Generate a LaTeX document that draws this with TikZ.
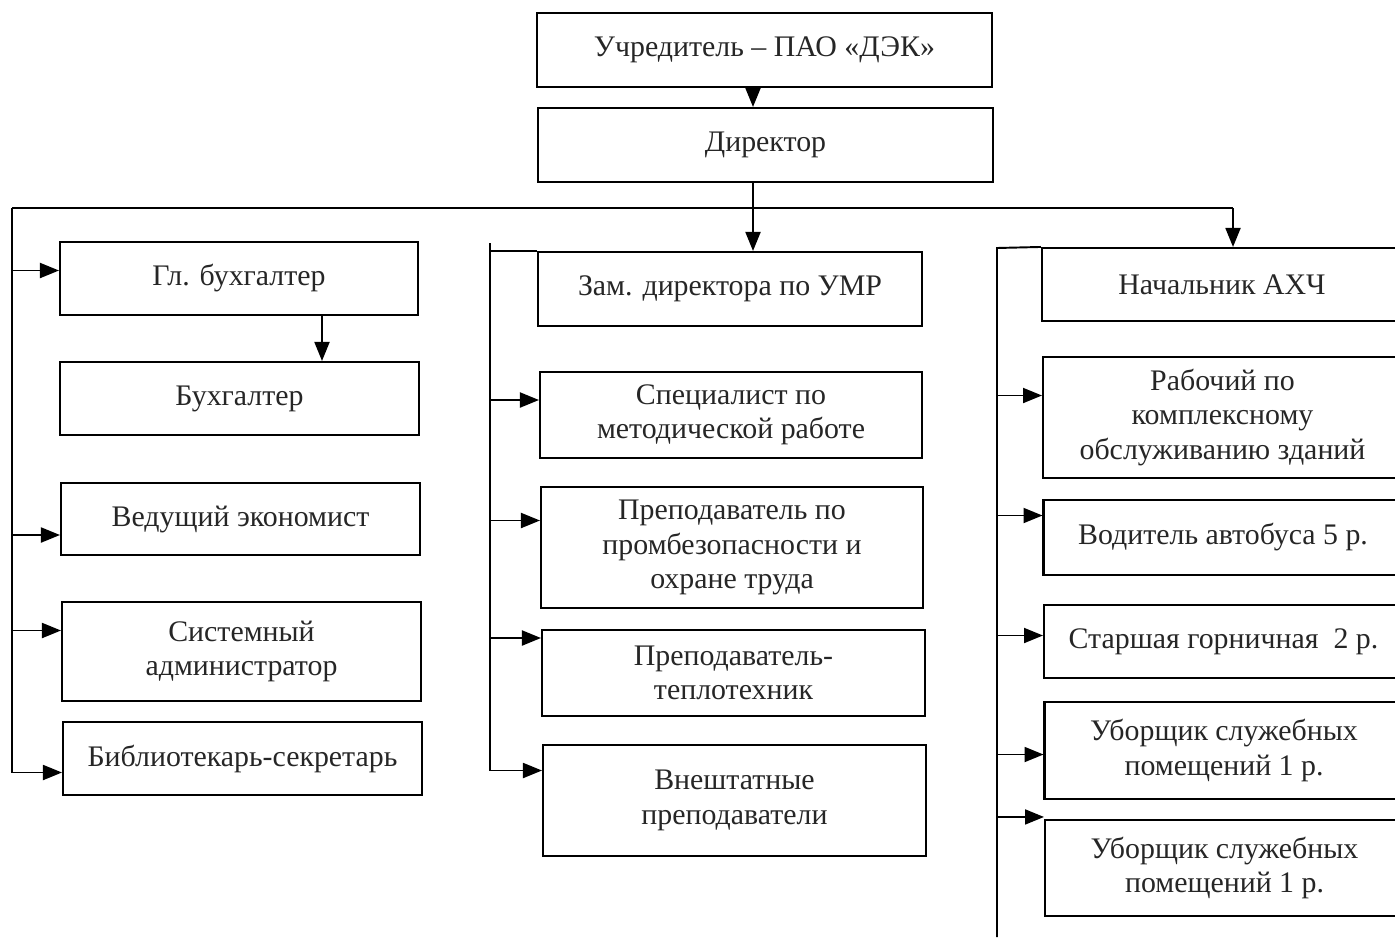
\documentclass[tikz,border=0pt]{standalone}
\usepackage{fontspec}
\setmainfont{Liberation Serif}
\usetikzlibrary{arrows.meta, positioning, calc}

\begin{document}
\begin{tikzpicture}[x=0.02cm, y=-0.02cm,
    box/.style={draw, line width=1.2pt, align=center, inner sep=2pt, text=black!85,
        font=\fontsize{17}{19.5}\selectfont},
    link/.style={line width=1.1pt},
    arr/.style={line width=1.1pt, -{Triangle[length=0.38cm, width=0.3cm]}}]
    \useasboundingbox (0,0) rectangle (1395,937);

    \node[box, minimum width=9.1cm, minimum height=1.48cm] (uchr) at (764.5,50) {Учредитель – ПАО «ДЭК»};
    \node[box, minimum width=9.1cm, minimum height=1.48cm] (dir) at (765.5,145) {Директор};

    \node[box, minimum width=7.16cm, minimum height=1.46cm] (glbuh) at (239,278.5) {Гл. бухгалтер};
    \node[box, minimum width=7.18cm, minimum height=1.46cm] (buh) at (239.5,398.5) {Бухгалтер};
    \node[box, minimum width=7.18cm, minimum height=1.44cm] (ved) at (240.5,519) {Ведущий экономист};
    \node[box, minimum width=7.18cm, minimum height=1.98cm] (sys) at (241.5,651.5) {Системный\\администратор};
    \node[box, minimum width=7.18cm, minimum height=1.46cm] (bib) at (242.5,758.5) {Библиотекарь-секретарь};

    \node[box, minimum width=7.68cm, minimum height=1.48cm] (zam) at (730,289) {Зам. директора по УМР};
    \node[box, minimum width=7.64cm, minimum height=1.72cm] (spec) at (731,415) {Специалист по\\методической работе};
    \node[box, minimum width=7.64cm, minimum height=2.42cm] (prep) at (732,547.5) {Преподаватель по\\промбезопасности и\\охране труда};
    \node[box, minimum width=7.66cm, minimum height=1.72cm] (teplo) at (733.5,673) {Преподаватель-\\теплотехник};
    \node[box, minimum width=7.66cm, minimum height=2.22cm] (vnesh) at (734.5,800.5) {Внештатные\\преподаватели};

    \node[box, minimum width=7.2cm, minimum height=1.46cm] (nach) at (1222,284.5) {Начальник АХЧ};
    \node[box, minimum width=7.18cm, minimum height=2.42cm] (rab) at (1222.5,417.5) {Рабочий по\\комплексному\\обслуживанию зданий};
    \node[box, minimum width=7.18cm, minimum height=1.5cm] (vod) at (1223,537.5) {Водитель автобуса 5 р.};
    \node[box, minimum width=7.18cm, minimum height=1.46cm] (star) at (1223.5,641.5) {Старшая горничная~~2 р.};
    \node[box, minimum width=7.18cm, minimum height=1.94cm] (ub1) at (1224,750.5) {Уборщик служебных\\помещений 1 р.};
    \node[box, minimum width=7.18cm, minimum height=1.92cm] (ub2) at (1224.5,868) {Уборщик служебных\\помещений 1 р.};

    \coordinate (c1) at (753,0);
    \coordinate (lft) at (12,208);
    \coordinate (rgt) at (1233,208);
    \coordinate (mid) at (490,243);
    \coordinate (ahx) at (997,248);
    \coordinate (bot) at (997,937);

    \coordinate (aglbuh) at ($(glbuh.west)+(0,-8)$);
    \coordinate (aved) at ($(ved.west)+(0,16)$);
    \coordinate (asys) at ($(sys.west)+(0,-21)$);
    \coordinate (abib) at ($(bib.west)+(0,14)$);
    \coordinate (aspec) at ($(spec.west)+(0,-15)$);
    \coordinate (aprep) at ($(prep.west)+(0,-27)$);
    \coordinate (ateplo) at ($(teplo.west)+(0,-35)$);
    \coordinate (avnesh) at ($(vnesh.west)+(0,-30)$);
    \coordinate (arab) at ($(rab.west)+(0,-22)$);
    \coordinate (avod) at ($(vod.west)+(0,-22)$);
    \coordinate (astar) at ($(star.west)+(0,-6)$);
    \coordinate (aub1) at ($(ub1.west)+(0,4)$);
    \coordinate (aub2) at ($(ub2.north west)+(0,-2)$);

    \draw[arr] (uchr.south -| c1) -- (dir.north -| c1);
    \draw[arr] (dir.south -| c1) -- (zam.north -| c1);
    \draw[link] (lft) -- (rgt);
    \draw[arr] (rgt) -- (nach.north -| rgt);

    \draw[arr] (lft) |- (abib);
    \draw[arr] (lft |- aglbuh) -- (aglbuh);
    \draw[arr] (lft |- aved) -- (aved);
    \draw[arr] (lft |- asys) -- (asys);
    \draw[arr] (glbuh.south -| 322,0) -- (buh.north -| 322,0);

    \draw[link] (mid |- zam.north west) -- (zam.north west);
    \draw[arr] (mid) |- (avnesh);
    \draw[arr] (mid |- aspec) -- (aspec);
    \draw[arr] (mid |- aprep) -- (aprep);
    \draw[arr] (mid |- ateplo) -- (ateplo);

    \draw[link] (nach.north west) -- (ahx) -- (bot);
    \draw[arr] (ahx |- arab) -- (arab);
    \draw[arr] (ahx |- avod) -- (avod);
    \draw[arr] (ahx |- astar) -- (astar);
    \draw[arr] (ahx |- aub1) -- (aub1);
    \draw[arr] (ahx |- aub2) -- (aub2);
\end{tikzpicture}
\end{document}
